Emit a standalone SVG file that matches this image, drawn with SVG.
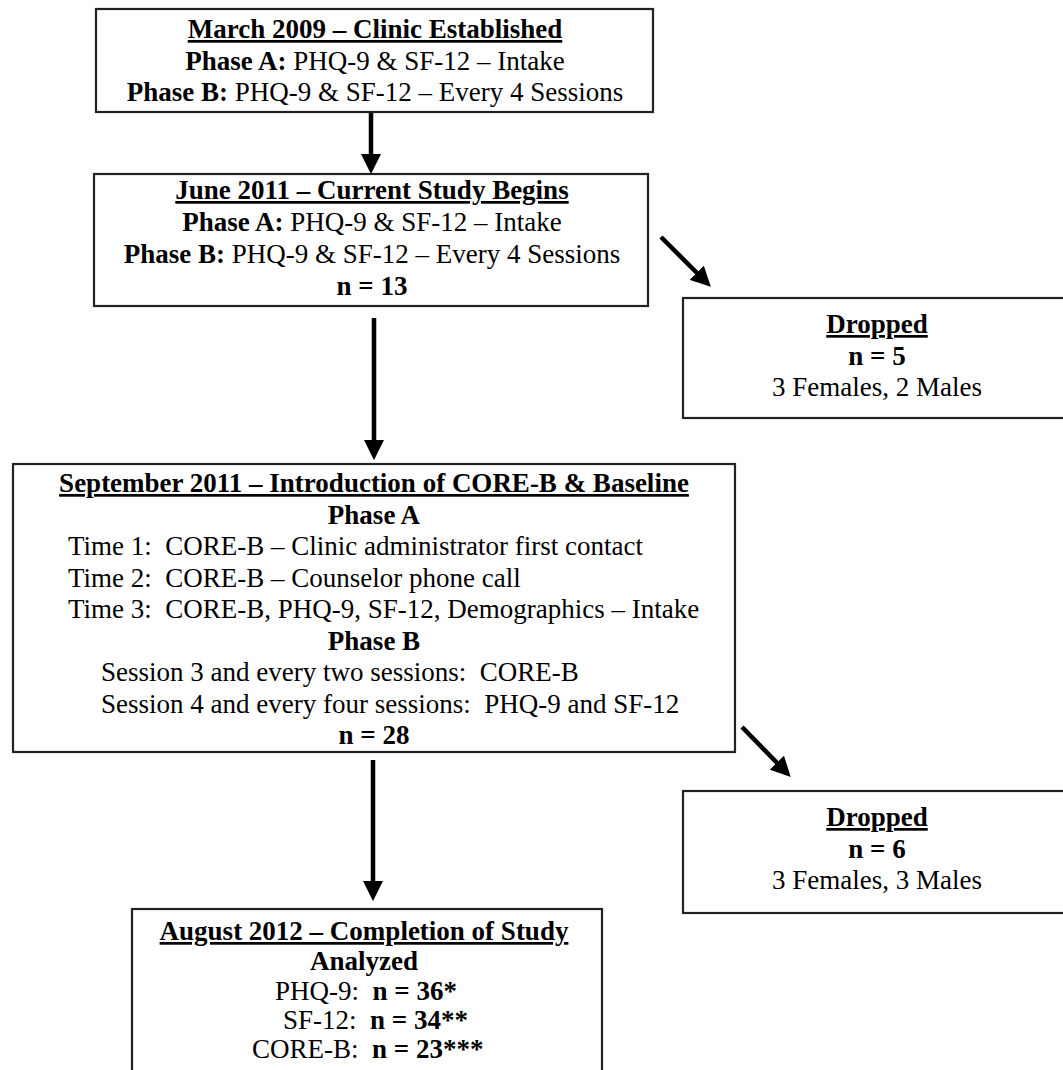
<svg xmlns="http://www.w3.org/2000/svg" width="1063" height="1070" viewBox="0 0 1063 1070">
<style>
text{font-family:"Liberation Serif","Times New Roman",serif;font-size:27px;fill:#000;white-space:pre}
.c{text-anchor:middle}
.b{font-weight:bold}
.u{text-decoration:underline}
.box{fill:#fff;stroke:#222;stroke-width:2.2}
.arr{stroke:#000;stroke-width:4.5;fill:none;marker-end:url(#ah)}
</style>
<defs>
<marker id="ah" markerUnits="userSpaceOnUse" markerWidth="20" markerHeight="20" viewBox="0 0 18 18" refX="8" refY="9" orient="auto">
<path d="M0,0 L18,9 L0,18 Z" fill="#000"/>
</marker>
</defs>
<rect width="1063" height="1070" fill="#fff"/>
<g id="connectors">
<line class="arr" x1="371" y1="113" x2="371" y2="163"/>
<line class="arr" x1="374" y1="318" x2="374" y2="449"/>
<line class="arr" x1="373" y1="760" x2="373" y2="890"/>
<line class="arr" x1="661" y1="237" x2="703" y2="279"/>
<line class="arr" x1="742" y1="727" x2="783" y2="769"/>
</g>
<g id="clinic">
<rect class="box" x="96" y="9" width="557" height="103"/>
<text class="c b u" x="375" y="38">March 2009 – Clinic Established</text>
<text class="c" x="375" y="70"><tspan class="b">Phase A:</tspan> PHQ-9 &amp; SF-12 – Intake</text>
<text class="c" x="375" y="101"><tspan class="b">Phase B:</tspan> PHQ-9 &amp; SF-12 – Every 4 Sessions</text>
</g>
<g id="study">
<rect class="box" x="94" y="174" width="554" height="132"/>
<text class="c b u" x="372" y="199">June 2011 – Current Study Begins</text>
<text class="c" x="372" y="231"><tspan class="b">Phase A:</tspan> PHQ-9 &amp; SF-12 – Intake</text>
<text class="c" x="372" y="263"><tspan class="b">Phase B:</tspan> PHQ-9 &amp; SF-12 – Every 4 Sessions</text>
<text class="c b" x="372" y="295">n = 13</text>
</g>
<g id="dropped1">
<rect class="box" x="683" y="298" width="390" height="120"/>
<text class="c b u" x="877" y="333">Dropped</text>
<text class="c b" x="877" y="365">n = 5</text>
<text class="c" x="877" y="396">3 Females, 2 Males</text>
</g>
<g id="september">
<rect class="box" x="13" y="464" width="722" height="288"/>
<text class="c b u" x="374" y="492">September 2011 – Introduction of CORE-B &amp; Baseline</text>
<text class="c b" x="374" y="524">Phase A</text>
<text x="68" y="555">Time 1:  CORE-B – Clinic administrator first contact</text>
<text x="68" y="587">Time 2:  CORE-B – Counselor phone call</text>
<text x="68" y="618">Time 3:  CORE-B, PHQ-9, SF-12, Demographics – Intake</text>
<text class="c b" x="374" y="650">Phase B</text>
<text x="101" y="681">Session 3 and every two sessions:  CORE-B</text>
<text x="101" y="713">Session 4 and every four sessions:  PHQ-9 and SF-12</text>
<text class="c b" x="374" y="744">n = 28</text>
</g>
<g id="dropped2">
<rect class="box" x="683" y="791" width="390" height="122"/>
<text class="c b u" x="877" y="826">Dropped</text>
<text class="c b" x="877" y="858">n = 6</text>
<text class="c" x="877" y="889">3 Females, 3 Males</text>
</g>
<g id="completion">
<rect class="box" x="132" y="909" width="470" height="180"/>
<text class="c b u" x="364" y="940">August 2012 – Completion of Study</text>
<text class="c b" x="364" y="970">Analyzed</text>
<text x="275" y="1000">PHQ-9:  <tspan class="b">n = 36*</tspan></text>
<text x="283" y="1029">SF-12:  <tspan class="b">n = 34**</tspan></text>
<text x="252" y="1058">CORE-B:  <tspan class="b">n = 23***</tspan></text>
</g>
</svg>
